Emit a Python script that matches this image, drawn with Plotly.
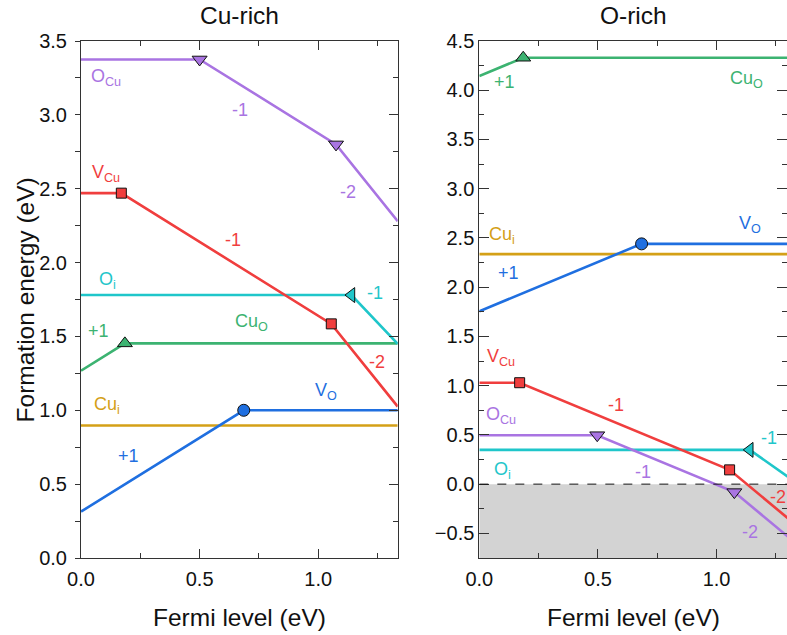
import plotly.graph_objects as go

FONT = "Liberation Sans, Arial, sans-serif"

# ---------------- data ----------------
PANEL_TITLES = ["Cu-rich", "O-rich"]
X_TITLE = "Fermi level (eV)"
Y_TITLE = "Formation energy (eV)"

# Cu-rich panel: vertices of each formation-energy polyline
cu_OCu_x = [0.0, 0.50, 1.075, 1.335]
cu_OCu_y = [3.375, 3.375, 2.80, 2.28]
cu_VCu_x = [0.0, 0.17, 1.055, 1.335]
cu_VCu_y = [2.47, 2.47, 1.585, 1.025]
cu_Oi_x = [0.0, 1.14, 1.335]
cu_Oi_y = [1.78, 1.78, 1.45]
cu_CuO_x = [0.0, 0.185, 1.335]
cu_CuO_y = [1.268, 1.453, 1.453]
cu_VO_x = [0.0, 0.686, 1.335]
cu_VO_y = [0.314, 1.0, 1.0]
cu_Cui_x = [0.0, 1.335]
cu_Cui_y = [0.897, 0.897]

# O-rich panel
o_CuO_x = [0.0, 0.185, 1.335]
o_CuO_y = [4.145, 4.33, 4.33]
o_Cui_x = [0.0, 1.335]
o_Cui_y = [2.336, 2.336]
o_VO_x = [0.0, 0.684, 1.335]
o_VO_y = [1.756, 2.44, 2.44]
o_VCu_x = [0.0, 0.17, 1.055, 1.335]
o_VCu_y = [1.03, 1.03, 0.145, -0.415]
o_OCu_x = [0.0, 0.497, 1.075, 1.335]
o_OCu_y = [0.497, 0.497, -0.081, -0.601]
o_Oi_x = [0.0, 1.14, 1.335]
o_Oi_y = [0.348, 0.348, 0.017]

# axis ranges / ticks
cu_x_range = [0.0, 1.335]
cu_y_range = [0.0, 3.5]
o_x_range = [0.0, 1.297]
o_y_range = [-0.75, 4.5]
x_tickvals = [0.0, 0.5, 1.0]
cu_y_tickvals = [0.0, 0.5, 1.0, 1.5, 2.0, 2.5, 3.0, 3.5]
o_y_tickvals = [-0.5, 0.0, 0.5, 1.0, 1.5, 2.0, 2.5, 3.0, 3.5, 4.0, 4.5]

# labels: text, x, y, xanchor, colour key
cu_labels = [
    ("O<sub>Cu</sub>", 0.034, 3.25, "left", "purple"),
    ("-1", 0.67, 3.03, "center", "purple"),
    ("-2", 1.126, 2.48, "center", "purple"),
    ("V<sub>Cu</sub>", 0.038, 2.60, "left", "red"),
    ("-1", 0.642, 2.152, "center", "red"),
    ("O<sub>i</sub>", 0.066, 1.88, "left", "cyan"),
    ("-1", 1.239, 1.792, "center", "cyan"),
    ("Cu<sub>O</sub>", 0.641, 1.595, "left", "green"),
    ("+1", 0.072, 1.537, "center", "green"),
    ("-2", 1.246, 1.329, "center", "red"),
    ("V<sub>O</sub>", 0.978, 1.125, "left", "blue"),
    ("Cu<sub>i</sub>", 0.045, 1.035, "left", "gold"),
    ("+1", 0.199, 0.692, "center", "blue"),
]
o_labels = [
    ("+1", 0.108, 4.083, "center", "green"),
    ("Cu<sub>O</sub>", 1.049, 4.105, "left", "green"),
    ("Cu<sub>i</sub>", 0.031, 2.525, "left", "gold"),
    ("V<sub>O</sub>", 1.085, 2.635, "left", "blue"),
    ("+1", 0.125, 2.14, "center", "blue"),
    ("V<sub>Cu</sub>", 0.024, 1.29, "left", "red"),
    ("-1", 0.575, 0.804, "center", "red"),
    ("O<sub>Cu</sub>", 0.021, 0.70, "left", "purple"),
    ("-1", 1.221, 0.466, "center", "cyan"),
    ("O<sub>i</sub>", 0.052, 0.14, "left", "cyan"),
    ("-1", 0.688, 0.128, "center", "purple"),
    ("-2", 1.257, -0.132, "center", "red"),
    ("-2", 1.141, -0.481, "center", "purple"),
]

COLORS = {
    "purple": "#A974E2",
    "red": "#F03E3E",
    "cyan": "#1FC6CA",
    "green": "#3CB371",
    "blue": "#1F6FE0",
    "gold": "#D4A017",
}

fig = go.Figure()


def add_defect(xs, ys, color, symbol, size, xa, ya):
    fig.add_trace(go.Scatter(x=xs, y=ys, mode="lines", xaxis=xa, yaxis=ya,
                             line=dict(color=color, width=2.6),
                             showlegend=False, hoverinfo="skip"))
    if symbol is not None and len(xs) > 2:
        fig.add_trace(go.Scatter(x=xs[1:-1], y=ys[1:-1], mode="markers",
                                 xaxis=xa, yaxis=ya,
                                 marker=dict(symbol=symbol, size=size, color=color,
                                             line=dict(color="#111", width=1)),
                                 showlegend=False, hoverinfo="skip", cliponaxis=False))


# Cu-rich
add_defect(cu_Cui_x, cu_Cui_y, COLORS["gold"], None, 0, "x", "y")
add_defect(cu_VO_x, cu_VO_y, COLORS["blue"], "circle", 12, "x", "y")
add_defect(cu_CuO_x, cu_CuO_y, COLORS["green"], "triangle-up", 13, "x", "y")
add_defect(cu_Oi_x, cu_Oi_y, COLORS["cyan"], "triangle-left", 13, "x", "y")
add_defect(cu_VCu_x, cu_VCu_y, COLORS["red"], "square", 10, "x", "y")
add_defect(cu_OCu_x, cu_OCu_y, COLORS["purple"], "triangle-down", 13, "x", "y")
# dummy trace for inner right-side tick axis of left panel
fig.add_trace(go.Scatter(x=[], y=[], xaxis="x", yaxis="y3", showlegend=False))

# O-rich
add_defect(o_Cui_x, o_Cui_y, COLORS["gold"], None, 0, "x2", "y2")
add_defect(o_VO_x, o_VO_y, COLORS["blue"], "circle", 12, "x2", "y2")
add_defect(o_CuO_x, o_CuO_y, COLORS["green"], "triangle-up", 13, "x2", "y2")
add_defect(o_Oi_x, o_Oi_y, COLORS["cyan"], "triangle-left", 13, "x2", "y2")
add_defect(o_OCu_x, o_OCu_y, COLORS["purple"], "triangle-down", 13, "x2", "y2")
add_defect(o_VCu_x, o_VCu_y, COLORS["red"], "square", 10, "x2", "y2")

# shaded negative region and zero line in O-rich panel
fig.add_shape(type="rect", xref="x2", yref="y2", x0=o_x_range[0], x1=o_x_range[1],
              y0=o_y_range[0], y1=0, fillcolor="#D3D3D3", line=dict(width=0), layer="below")
fig.add_shape(type="line", xref="x2", yref="y2", x0=o_x_range[0], x1=o_x_range[1],
              y0=0, y1=0, line=dict(color="#111", width=1, dash="dash"))

annotations = []
for (txt, x, y, anc, c) in cu_labels:
    annotations.append(dict(text=txt, x=x, y=y, xref="x", yref="y", xanchor=anc,
                            yanchor="middle", showarrow=False,
                            font=dict(family=FONT, size=18, color=COLORS[c])))
for (txt, x, y, anc, c) in o_labels:
    annotations.append(dict(text=txt, x=x, y=y, xref="x2", yref="y2", xanchor=anc,
                            yanchor="middle", showarrow=False,
                            font=dict(family=FONT, size=18, color=COLORS[c])))

L_DOM = [0.0, 0.4486]
R_DOM = [0.5642, 1.0]

TITLE_SIZE = 24.5
# panel titles and axis titles
for dom, t in zip([L_DOM, R_DOM], PANEL_TITLES):
    annotations.append(dict(text=t, x=(dom[0] + dom[1]) / 2, y=1.05, xref="paper",
                            yref="paper", xanchor="center", yanchor="middle",
                            showarrow=False, font=dict(family=FONT, size=TITLE_SIZE, color="#111")))
    annotations.append(dict(text=X_TITLE, x=(dom[0] + dom[1]) / 2, y=-0.115, xref="paper",
                            yref="paper", xanchor="center", yanchor="middle",
                            showarrow=False, font=dict(family=FONT, size=TITLE_SIZE, color="#111")))
annotations.append(dict(text=Y_TITLE, x=-0.078, y=0.5, xref="paper", yref="paper",
                        xanchor="center", yanchor="middle", textangle=-90,
                        showarrow=False, font=dict(family=FONT, size=TITLE_SIZE, color="#111")))

AX_COLOR = "#333"
tickfont = dict(family=FONT, size=20, color="#111")

xaxis_common = dict(showgrid=False, zeroline=False, showline=True, linecolor=AX_COLOR,
                    linewidth=1, mirror="ticks", ticks="inside", ticklen=9, tickwidth=1,
                    tickcolor=AX_COLOR, tickvals=x_tickvals, tickformat=".1f",
                    tickfont=tickfont, ticklabelstandoff=3,
                    minor=dict(dtick=0.25, tick0=0, ticks="inside", ticklen=5,
                               tickcolor=AX_COLOR, showgrid=False))

fig.update_layout(
    width=787, height=635,
    margin=dict(l=81, r=0, t=41, b=77),
    paper_bgcolor="white", plot_bgcolor="white",
    showlegend=False,
    xaxis=dict(domain=L_DOM, range=cu_x_range, anchor="y", **xaxis_common),
    xaxis2=dict(domain=R_DOM, range=o_x_range, anchor="y2", **xaxis_common),
    yaxis=dict(domain=[0, 1], range=cu_y_range, anchor="x", showgrid=False,
               zeroline=False, showline=True, linecolor=AX_COLOR, linewidth=1,
               mirror=True, ticks="outside", ticklen=5, tickcolor=AX_COLOR,
               tickvals=cu_y_tickvals, tickformat=".1f", tickfont=tickfont,
               ticklabelstandoff=4,
               minor=dict(dtick=0.25, tick0=0, ticks="outside", ticklen=5,
                          tickcolor=AX_COLOR, showgrid=False)),
    yaxis3=dict(range=cu_y_range, overlaying="y", anchor="x", side="right",
                showgrid=False, zeroline=False, showline=False, ticks="inside",
                ticklen=9, tickcolor=AX_COLOR, tickvals=cu_y_tickvals,
                showticklabels=False,
                minor=dict(dtick=0.25, tick0=0, ticks="inside", ticklen=5,
                           tickcolor=AX_COLOR, showgrid=False)),
    yaxis2=dict(domain=[0, 1], range=o_y_range, anchor="x2", showgrid=False,
                zeroline=False, showline=True, linecolor=AX_COLOR, linewidth=1,
                mirror="ticks", ticks="inside", ticklen=10, tickcolor=AX_COLOR,
                tickvals=o_y_tickvals, tickformat=".1f", tickfont=tickfont,
                minor=dict(dtick=0.25, tick0=0, ticks="inside", ticklen=5,
                           tickcolor=AX_COLOR, showgrid=False)),
    annotations=annotations,
)

fig.write_html("out.html", config={"displayModeBar": False},
               post_script="document.body.style.margin='0px';")
